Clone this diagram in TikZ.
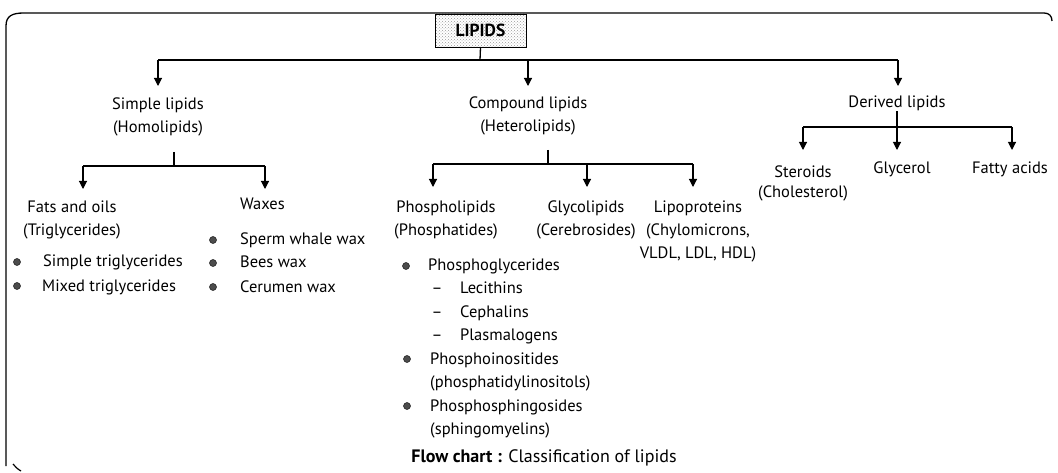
\documentclass[tikz,border=0pt]{standalone}
\usepackage{fontspec}
\setmainfont{PT Sans}
\usetikzlibrary{arrows.meta,patterns}
\begin{document}
\begin{tikzpicture}[x=1pt,y=-1pt,
  txt/.style={font=\fontsize{16.5}{23}\selectfont, inner sep=0pt, align=center},
  itm/.style={font=\fontsize{16.5}{23}\selectfont, inner sep=0pt, anchor=base west},
  conn/.style={line width=1.3pt},
  arr/.style={line width=1.1pt, -{Triangle[length=8pt,width=8pt]}},
  bul/.style={circle, fill=black!70, draw=black!90, line width=0.5pt, inner sep=0pt, minimum size=7pt},
  frame/.style={line width=1.3pt},
  boxed/.style={draw, line width=0.8pt, minimum width=91pt, minimum height=33pt, pattern=crosshatch dots, pattern color=black!40, font=\fontsize{17.5}{20}\selectfont\bfseries, inner sep=0pt}
]
\useasboundingbox (0,0) rectangle (1058,473);
% frame
\draw[frame] (6,466) -- (6,26) .. controls (6,16) and (12,13) .. (24,13) -- (1044,13) .. controls (1049,13) and (1052,16) .. (1052,21);
\draw[line width=1.2pt] (13,464) .. controls (15,466) and (17,469) .. (21,471);
% root
\node[boxed] (lipids) at (480.5,30.5) {LIPIDS};
\coordinate (j0) at (480,60);
\coordinate (b0l) at (158,60);
\coordinate (b0r) at (898,60);
\coordinate (b0m) at (528,60);
\coordinate (t1) at (158,86);
\coordinate (t2) at (528,86);
\coordinate (t3) at (898,86);
\draw[conn] (lipids.south) -- (j0);
\draw[conn] (b0l) -- (b0r);
\draw[arr] (b0l) -- (t1);
\draw[arr] (b0m) -- (t2);
\draw[arr] (b0r) -- (t3);
% level 1
\node[txt] (simple) at (158,117) {Simple lipids\\(Homolipids)};
\node[txt] (compound) at (528,116) {Compound lipids\\(Heterolipids)};
\node[txt, anchor=base] (derived) at (897,108) {Derived lipids};
% simple branch
\coordinate (s0) at (174,152);
\coordinate (s1) at (174,166);
\coordinate (sl) at (83,166);
\coordinate (sr) at (265,166);
\coordinate (st1) at (83,189);
\coordinate (st2) at (265,189);
\draw[conn] (s0) -- (s1);
\draw[conn] (sl) -- (sr);
\draw[arr] (sl) -- (st1);
\draw[arr] (sr) -- (st2);
\node[txt] (fats) at (72,220) {Fats and oils\\(Triglycerides)};
\node[txt, anchor=base west] (waxes) at (240,210) {Waxes};
\node[bul] (bf1) at (17,262) {};
\node[itm] (f1) at (43,267) {Simple triglycerides};
\node[bul] (bf2) at (17,286) {};
\node[itm] (f2) at (42,291) {Mixed triglycerides};
\node[bul] (bw1) at (213,240) {};
\node[itm] (w1) at (240,245) {Sperm whale wax};
\node[bul] (bw2) at (213,263) {};
\node[itm] (w2) at (240,268) {Bees wax};
\node[bul] (bw3) at (213,287) {};
\node[itm] (w3) at (240,292) {Cerumen wax};
% compound branch
\coordinate (c0) at (548,150);
\coordinate (c1) at (548,164);
\coordinate (cl) at (433,164);
\coordinate (cm) at (587,164);
\coordinate (cr) at (693,164);
\coordinate (ct1) at (433,187);
\coordinate (ct2) at (587,187);
\coordinate (ct3) at (693,187);
\draw[conn] (c0) -- (c1);
\draw[conn] (cl) -- (cr);
\draw[arr] (cl) -- (ct1);
\draw[arr] (cm) -- (ct2);
\draw[arr] (cr) -- (ct3);
\node[txt] (phospho) at (446,220) {Phospholipids\\(Phosphatides)};
\node[txt] (glyco) at (586,220) {Glycolipids\\(Cerebrosides)};
\node[txt] (lipo) at (698,231.5) {Lipoproteins\\(Chylomicrons,\\VLDL, LDL, HDL)};
\node[bul] (bp1) at (406,266) {};
\node[itm] (p1) at (428,271) {Phosphoglycerides};
\node[itm, anchor=base] (d1) at (437,294) {–};
\node[itm] (p1a) at (460,294) {Lecithins};
\node[itm, anchor=base] (d2) at (437,317) {–};
\node[itm] (p1b) at (460,317) {Cephalins};
\node[itm, anchor=base] (d3) at (437,340) {–};
\node[itm] (p1c) at (460,340) {Plasmalogens};
\node[bul] (bp2) at (407,359) {};
\node[itm] (p2) at (430,364) {Phosphoinositides};
\node[itm] (p2a) at (430,387) {(phosphatidylinositols)};
\node[bul] (bp3) at (407,406) {};
\node[itm] (p3) at (430,411) {Phosphosphingosides};
\node[itm] (p3a) at (430,434) {(sphingomyelins)};
% derived branch
\coordinate (d0) at (897,127);
\coordinate (dl) at (803,127);
\coordinate (dr) at (1012,127);
\coordinate (dt1) at (803,150);
\coordinate (dt2) at (897,150);
\coordinate (dt3) at (1012,150);
\draw[conn] (derived.south) -- (d0);
\draw[conn] (dl) -- (dr);
\draw[arr] (dl) -- (dt1);
\draw[arr] (d0) -- (dt2);
\draw[arr] (dr) -- (dt3);
\node[txt, font=\fontsize{16.5}{20}\selectfont] (steroids) at (803,183) {Steroids\\(Cholesterol)};
\node[txt, anchor=base] (glycerol) at (902,174) {Glycerol};
\node[txt, anchor=base] (fatty) at (1010,174) {Fatty acids};
% caption
\node[txt, anchor=base, font=\fontsize{18}{22}\selectfont] (caption) at (544,462) {\textbf{Flow chart :} Classification of lipids};
\end{tikzpicture}
\end{document}
